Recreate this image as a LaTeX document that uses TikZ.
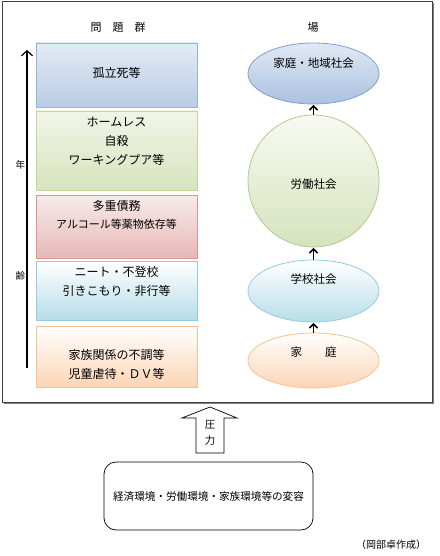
\documentclass[tikz,border=0pt]{standalone}
\usepackage{fontspec}
\setmainfont{Noto Sans CJK JP}
\usetikzlibrary{arrows.meta,shapes.geometric}
\definecolor{bBlueT}{HTML}{E4EBF5}\definecolor{bBlueB}{HTML}{B8CCE4}\definecolor{bBlueD}{HTML}{95B3D7}
\definecolor{bGreenT}{HTML}{F1F5E8}\definecolor{bGreenB}{HTML}{D7E4BD}\definecolor{bGreenD}{HTML}{C3D69B}
\definecolor{bRedT}{HTML}{F8EAEA}\definecolor{bRedB}{HTML}{E6B9B8}\definecolor{bRedD}{HTML}{D99694}
\definecolor{bCyanT}{HTML}{FFFFFF}\definecolor{bCyanB}{HTML}{B7DDE8}\definecolor{bCyanD}{HTML}{93CDDD}
\definecolor{bOrT}{HTML}{FFFFFF}\definecolor{bOrB}{HTML}{FCD5B5}\definecolor{bOrD}{HTML}{FAC090}
\definecolor{eBlueT}{HTML}{E2E9F4}\definecolor{eBlueB}{HTML}{A9C1E1}\definecolor{eBlueD}{HTML}{7FA0CC}
\definecolor{eGreenT}{HTML}{F8FAF2}\definecolor{eGreenB}{HTML}{D5E3BC}\definecolor{eGreenD}{HTML}{B5C98E}
\definecolor{frameC}{HTML}{404040}
\begin{document}
\begin{tikzpicture}[x=1pt,y=-1pt,
  probbox/.style={draw, line width=0.8pt, rectangle, minimum width=161pt, inner sep=0pt},
  placeell/.style={draw, line width=0.8pt, ellipse, minimum width=131pt, inner sep=0pt},
  btxt/.style={font=\fontsize{12}{14}\selectfont, inner sep=0pt},
  etxt/.style={font=\fontsize{11.5}{14}\selectfont, inner sep=0pt},
  smallarrow/.style={-{Straight Barb[length=4pt,width=8pt,line width=1.6pt]}, line width=1.8pt, shorten >=0.5pt}
]
\useasboundingbox (0,0) rectangle (439,556);
% outer frame
\draw[frameC, line width=0.9pt] (2,1.5) rectangle (432,402);
\draw[gray, line width=1.2pt] (433.2,3) -- (433.2,403.2) -- (4,403.2);

% headers
\node[font=\fontsize{11}{13}\selectfont] (hprob) at (118,27) {問　題　群};
\node[font=\fontsize{11}{13}\selectfont] (hplace) at (313,27) {場};

% age axis
\coordinate (axB) at (27,368);
\coordinate (axT) at (27,50);
\draw[line width=1.2pt, -{Straight Barb[length=5pt,width=11pt,line width=1.2pt]}] (axB) -- (axT);
\node[font=\fontsize{9.5}{11}\selectfont] (nen) at (20.5,165) {年};
\node[font=\fontsize{9.5}{11}\selectfont] (rei) at (20.5,276) {齢};

% problem boxes
\node[probbox, draw=bBlueD, top color=bBlueT, bottom color=bBlueB, minimum height=64pt] (b1) at (116.5,75) {};
\node[probbox, draw=bGreenD, top color=bGreenT, bottom color=bGreenB, minimum height=79pt] (b2) at (116.5,150.5) {};
\node[probbox, draw=bRedD, top color=bRedT, bottom color=bRedB, minimum height=63pt] (b3) at (116.5,226.5) {};
\node[probbox, draw=bCyanD, top color=bCyanT, bottom color=bCyanB, minimum height=59pt] (b4) at (116.5,290.5) {};
\node[probbox, draw=bOrD, top color=bOrT, bottom color=bOrB, minimum height=61pt] (b5) at (116.5,356.5) {};

\node[btxt] (t1) at (116.5,73) {孤立死等};
\node[btxt] (t2a) at (116.5,122) {ホームレス};
\node[btxt] (t2b) at (116.5,141) {自殺};
\node[btxt] (t2c) at (116.5,160) {ワーキングプア等};
\node[btxt] (t3a) at (116.5,206) {多重債務};
\node[font=\fontsize{11}{13}\selectfont, inner sep=0pt] (t3b) at (116.5,224) {アルコール等薬物依存等};
\node[btxt] (t4a) at (116.5,272) {ニート・不登校};
\node[btxt] (t4b) at (116.5,291) {引きこもり・非行等};
\node[btxt] (t5a) at (116.5,355) {家族関係の不調等};
\node[btxt] (t5b) at (116.5,374) {児童虐待・ＤＶ等};

% place ellipses
\node[placeell, draw=eBlueD, top color=eBlueT, bottom color=eBlueB, minimum height=61pt] (e1) at (313.5,73.5) {};
\node[placeell, draw=eGreenD, top color=eGreenT, bottom color=eGreenB, minimum height=132pt, minimum width=131pt] (e2) at (313.5,181) {};
\node[placeell, draw=bCyanD, top color=bCyanT, bottom color=bCyanB, minimum height=62pt] (e3) at (313.5,291) {};
\node[placeell, draw=bOrD, top color=bOrT, bottom color=bOrB, minimum height=55pt] (e4) at (313.5,360.5) {};

\node[etxt] (et1) at (313.5,63) {家庭・地域社会};
\node[etxt] (et2) at (313.5,184) {労働社会};
\node[etxt] (et3) at (313.5,279) {学校社会};
\node[etxt] (et4) at (313.5,352) {家　　庭};

\draw[smallarrow] (e2.north) -- (e1.south);
\draw[smallarrow] (e3.north) -- (e2.south);
\draw[smallarrow] (e4.north) -- (e3.south);

% pressure block arrow
\draw[line width=0.7pt, fill=white] (196,453) -- (196,418) -- (182,418) -- (210,407) -- (237,418) -- (224,418) -- (224,453) -- cycle;
\node[font=\fontsize{10.5}{12}\selectfont, inner sep=0pt] (atsu) at (210,425) {圧};
\node[font=\fontsize{10.5}{12}\selectfont, inner sep=0pt] (ryoku) at (210,441) {力};

% cause box
\node[draw, line width=0.7pt, rounded corners=12pt, minimum width=209pt, minimum height=68pt, font=\fontsize{10.6}{12}\selectfont] (cause) at (208.5,496) {経済環境・労働環境・家族環境等の変容};

\node[font=\fontsize{10}{12}\selectfont, inner sep=0pt] (credit) at (391,545) {（岡部卓作成）};
\end{tikzpicture}
\end{document}
